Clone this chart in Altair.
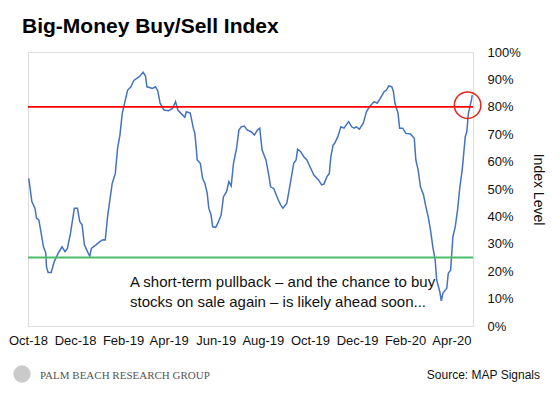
import altair as alt
import pandas as pd

# ---- data (day offsets from 2018-10-01, index level in %) ----
day_offsets = [1, 5, 9, 11, 14, 17, 20, 23, 24, 26, 30, 34, 39, 44, 48, 51, 55, 60, 64, 67,
               70, 73, 78, 80, 82, 88, 93, 97, 100, 103, 106, 109, 113, 116, 119, 122, 126, 129,
               133, 137, 144, 149, 152, 154, 161, 165, 168, 171, 176, 182, 187, 191, 194, 198,
               203, 205, 210, 214, 216, 218, 219, 223, 226, 229, 232, 234, 237, 239, 243, 246,
               250, 253, 257, 260, 263, 266, 270, 273, 276, 280, 284, 289, 293, 297, 300, 303,
               308, 312, 314, 318, 324, 327, 330, 335, 338, 341, 344, 347, 349, 353, 357, 361,
               365, 370, 376, 380, 383, 387, 390, 392, 395, 397, 401, 405, 409, 412, 415, 419,
               422, 425, 429, 434, 438, 442, 448, 452, 456, 461, 464, 467, 471, 473, 475, 479,
               481, 485, 489, 495, 500, 502, 505, 508, 512, 515, 518, 521, 524, 527, 529, 533,
               535, 537, 540, 542, 544, 547, 550, 553, 556, 559, 562, 566, 568, 570, 572, 574, 575]
index_pct = [53.9, 45.4, 43.0, 39.4, 38.7, 34.0, 28.9, 26.6, 21.5, 19.5, 19.5, 23.5, 26.5, 28.9,
             27.1, 28.3, 33.8, 43.0, 43.0, 38.1, 36.9, 29.6, 26.5, 25.5, 28.3, 29.6, 30.8, 31.5,
             31.4, 39.9, 46.0, 52.0, 55.7, 64.9, 69.7, 77.6, 82.5, 86.1, 87.2, 89.6, 91.0, 92.6,
             91.3, 87.3, 86.7, 87.3, 85.8, 81.3, 78.8, 78.6, 79.4, 81.9, 78.8, 77.6, 76.2, 78.2,
             77.7, 72.2, 70.3, 64.2, 60.6, 59.4, 53.9, 52.0, 48.4, 43.0, 40.5, 36.2, 36.0, 37.7,
             40.5, 47.2, 49.0, 52.7, 51.1, 59.4, 64.9, 71.5, 72.7, 73.0, 71.5, 70.9, 69.7, 71.5,
             72.2, 64.2, 60.6, 54.5, 50.8, 50.2, 46.0, 44.2, 43.0, 44.8, 49.6, 54.5, 59.4, 60.6,
             64.5, 63.6, 61.8, 60.6, 58.1, 55.1, 53.3, 51.5, 51.8, 54.5, 55.7, 61.8, 66.1, 66.7,
             69.1, 72.7, 72.2, 73.4, 74.6, 72.7, 72.2, 72.7, 71.8, 74.0, 78.2, 80.0, 81.9, 81.3,
             83.1, 85.5, 86.1, 87.6, 87.3, 85.5, 81.3, 77.6, 72.2, 72.2, 70.3, 70.1, 68.5, 60.6,
             56.9, 50.8, 47.8, 43.5, 39.9, 35.0, 28.9, 24.1, 16.8, 12.5, 9.2, 11.9, 13.1, 13.7,
             19.2, 20.4, 32.6, 36.2, 42.3, 50.8, 56.9, 69.1, 70.9, 77.6, 80.0, 82.5, 84.3]

start_date = "2018-10-01"
tick_months = [(2018, 10), (2018, 12), (2019, 2), (2019, 4), (2019, 6), (2019, 8),
               (2019, 10), (2019, 12), (2020, 2), (2020, 4)]
y_ticks = [0, 0.1, 0.2, 0.3, 0.4, 0.5, 0.6, 0.7, 0.8, 0.9, 1.0]
sell_level = 0.80
buy_level = 0.25
circle_day = 569
circle_level = 0.806

title_text = "Big-Money Buy/Sell Index"
note_lines = ["A short-term pullback \u2013 and the chance to buy",
              "stocks on sale again \u2013 is likely ahead soon..."]
brand_text = "PALM BEACH RESEARCH GROUP"
source_text = "Source: MAP Signals"

# ---- build tables ----
start = pd.Timestamp(start_date)
df = pd.DataFrame({
    "date": start + pd.to_timedelta(day_offsets, unit="D"),
    "value": [v / 100 for v in index_pct],
})
levels = pd.DataFrame({"value": [sell_level, buy_level], "kind": ["sell", "buy"]})
circle_df = pd.DataFrame({"date": [start + pd.Timedelta(days=circle_day)], "value": [circle_level]})
one = pd.DataFrame({"k": [0]})

FONT = "Liberation Sans, Arial, sans-serif"

x_scale = alt.Scale(domain=[alt.DateTime(year=2018, month=10, date=1),
                            alt.DateTime(year=2020, month=4, date=29)])
y_scale = alt.Scale(domain=[0, 1], nice=False, zero=True)

x_axis = alt.Axis(values=[alt.DateTime(year=y, month=m, date=1) for y, m in tick_months],
                  format="%b-%y", title=None, ticks=False, domain=False, grid=False,
                  labelFlush=False, labelPadding=8, labelFontSize=13, labelFont=FONT,
                  labelColor="#111", labelOverlap=False)
y_axis = alt.Axis(orient="right", values=y_ticks, format=".0%", title="Index Level",
                  ticks=False, domain=False, grid=False, labelPadding=14, labelFontSize=13,
                  labelFont=FONT, labelColor="#111", labelOverlap=False, labelFlush=False,
                  titleFont=FONT, titleFontSize=14,
                  titleFontWeight="normal", titleColor="#111", titlePadding=10)

X = alt.X("date:T", title=None, scale=x_scale, axis=x_axis)
Y = alt.Y("value:Q", title="Index Level", scale=y_scale, axis=y_axis)

line = alt.Chart(df).mark_line(color="#4472C4", strokeWidth=1.5).encode(x=X, y=Y)

rules = alt.Chart(levels).mark_rule(strokeWidth=1.8).encode(
    y=Y,
    color=alt.Color("kind:N", scale=alt.Scale(domain=["sell", "buy"],
                                              range=["#FF0000", "#4CBB6C"]), legend=None),
)

circle = alt.Chart(circle_df).mark_point(shape="circle", size=700, filled=False,
                                         color="#E8221B", strokeWidth=1.5, opacity=1).encode(
    x=X, y=Y)

title = alt.Chart(one).mark_text(text=title_text, align="left", baseline="alphabetic",
                                 fontSize=21, fontWeight="bold", font=FONT,
                                 color="#000").encode(x=alt.value(-6), y=alt.value(-19))

note = alt.Chart(one).mark_text(text=note_lines, align="left", baseline="alphabetic",
                                fontSize=15, lineHeight=20, font=FONT, color="#111").encode(
    x=alt.value(102), y=alt.value(235))

brand = alt.Chart(one).mark_text(text=brand_text, align="left", baseline="alphabetic",
                                 fontSize=11, font="Liberation Serif, Times New Roman, serif",
                                 color="#555").encode(x=alt.value(12), y=alt.value(327))

logo = alt.Chart(one).mark_point(shape="circle", size=300, filled=True,
                                 color="#c4c4c4", opacity=0.9).encode(
    x=alt.value(-6), y=alt.value(322))

source = alt.Chart(one).mark_text(text=source_text, align="right", baseline="alphabetic",
                                  fontSize=12, font=FONT, color="#111").encode(
    x=alt.value(512), y=alt.value(327))

chart = alt.layer(line, rules, circle, note, title, brand, logo, source).properties(
    width=445, height=274,
    autosize=alt.AutoSizeParams(type="none"),
    padding={"left": 20, "top": 44, "right": 75, "bottom": 62},
).configure_view(stroke="#d9d9d9", strokeWidth=1).configure(background="white")

chart.save("out.html", embed_options={"renderer": "svg", "actions": False})
